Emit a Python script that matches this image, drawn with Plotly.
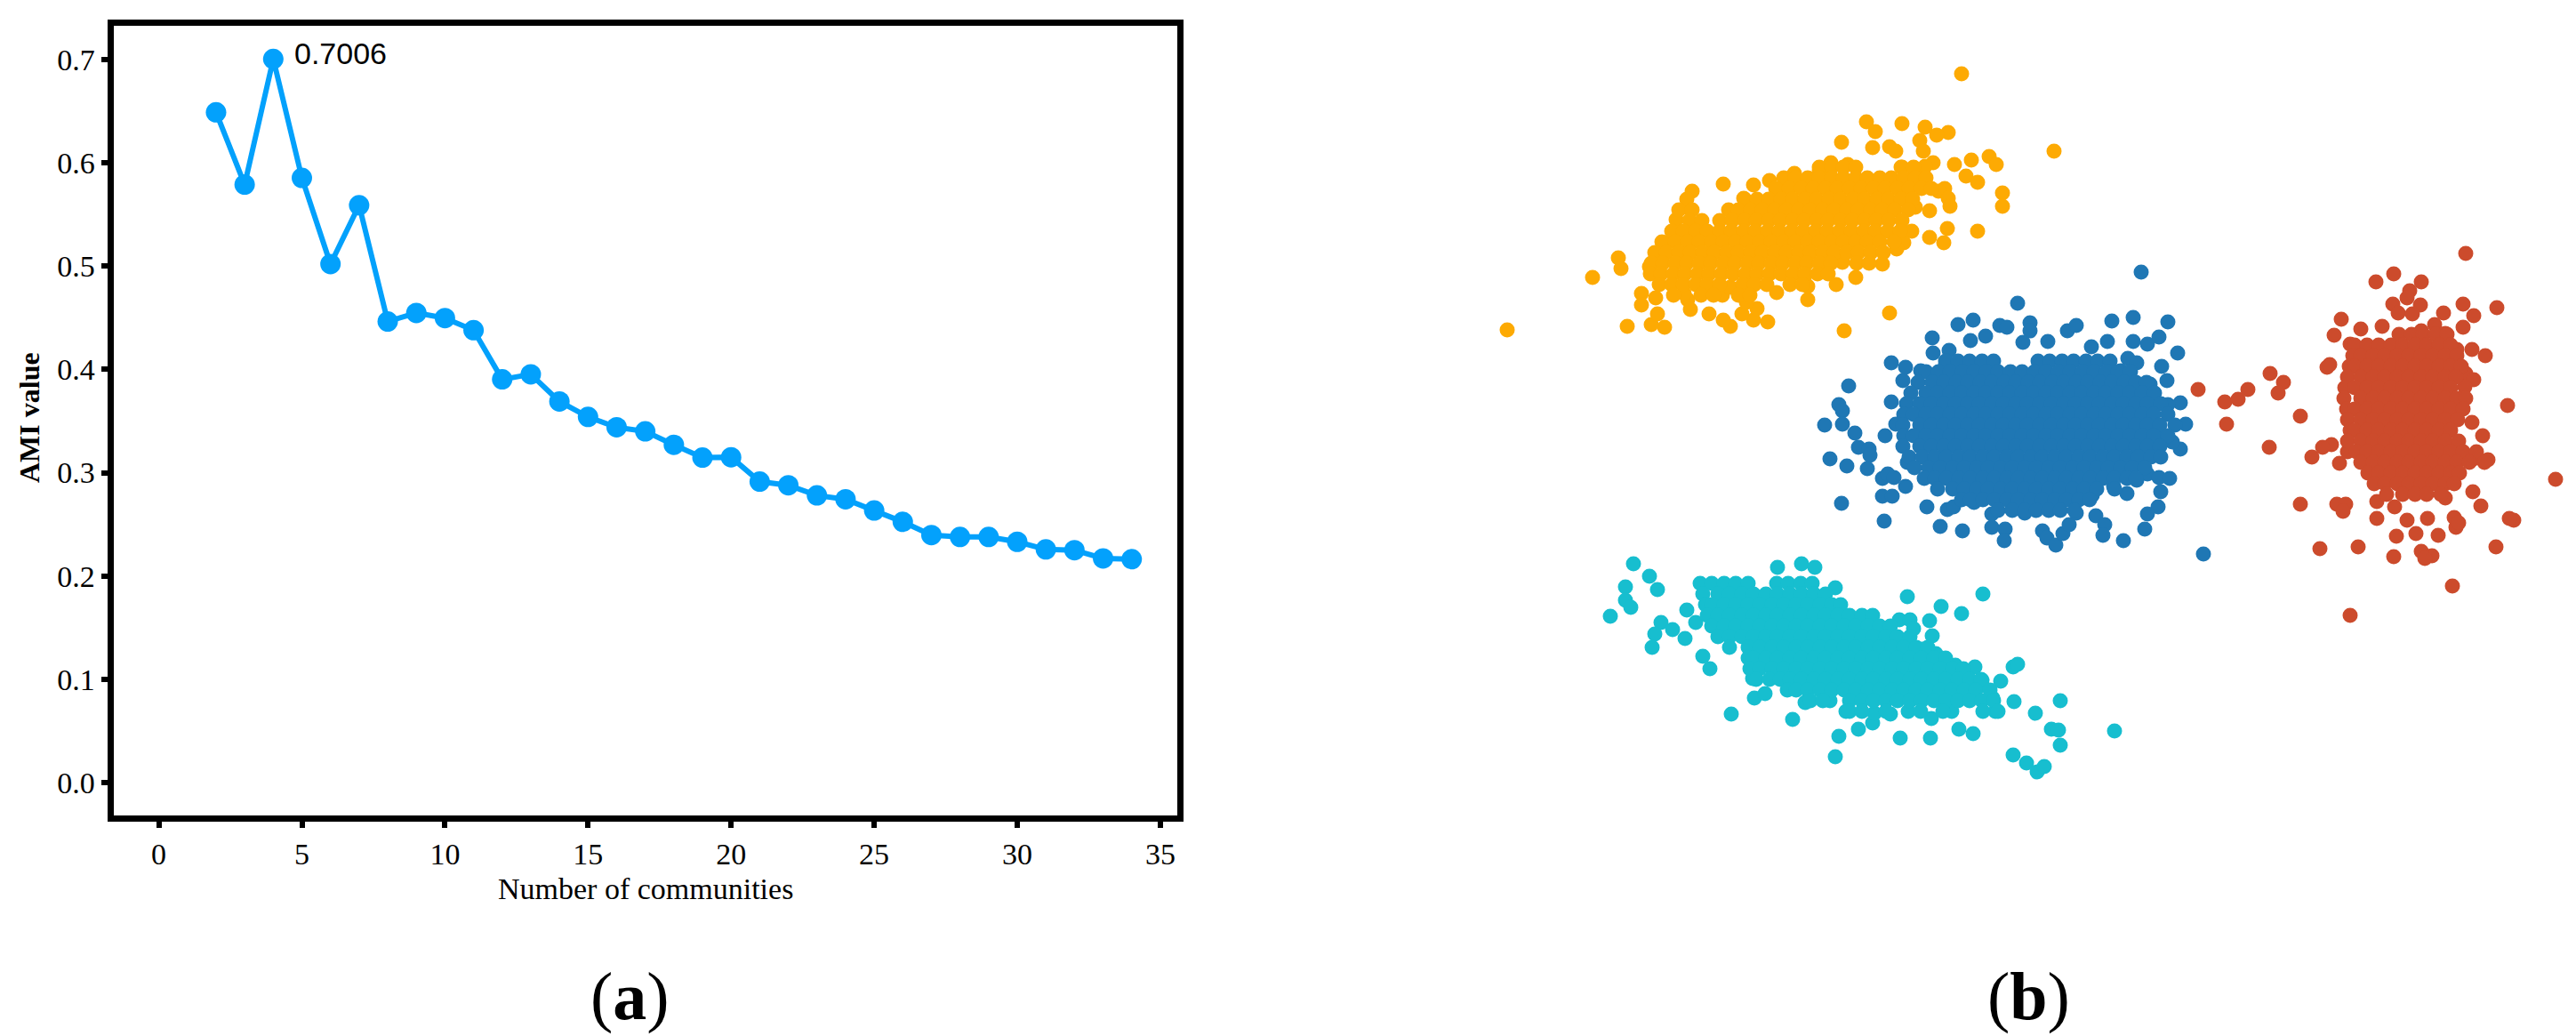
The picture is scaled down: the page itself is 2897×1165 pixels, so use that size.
import plotly.graph_objects as go


# --------------------------------------------------------
# (a) AMI value vs number of communities
# --------------------------------------------------------

communities = list(range(2, 35))

ami_values = [
    0.6490, 0.5790, 0.7006, 0.5855, 0.5020, 0.5590, 0.4464, 0.4547, 0.4497,
    0.4380, 0.3904, 0.3953, 0.3690, 0.3540, 0.3440, 0.3400, 0.3270, 0.3146,
    0.3150, 0.2914, 0.2878, 0.2780, 0.2743, 0.2634, 0.2524, 0.2396, 0.2378,
    0.2378, 0.2331, 0.2257, 0.2250, 0.2170, 0.2163
]

x_ticks = [0, 5, 10, 15, 20, 25, 30, 35]
y_ticks = [0.0, 0.1, 0.2, 0.3, 0.4, 0.5, 0.6, 0.7]

peak_label = "0.7006"


# --------------------------------------------------------
# (b) community embedding (coordinates in picture units)
# --------------------------------------------------------

orange_pts = [
    (1695, 371), (2206, 83), (2310, 170), (1791, 312), (1820, 290), (1823, 302),
    (1830, 367), (2074, 372), (2125, 352), (2224, 260), (2252, 217), (2252, 232),
    (2237, 176), (2245, 185), (2217, 180), (2198, 185), (2211, 198), (2224, 205),
    (2191, 149), (2178, 152), (2165, 143), (2159, 158), (2139, 139), (2099, 137),
    (2109, 148), (2071, 160), (2106, 166), (2125, 165), (2132, 170), (2163, 170),
    (2174, 183), (2165, 187), (2139, 188), (2154, 197), (2187, 212), (2180, 215),
    (2191, 223), (2193, 232), (2154, 233), (2170, 237), (2190, 257), (2170, 267),
    (2186, 273), (2150, 260), (2141, 273), (2133, 280), (2117, 297), (2087, 312),
    (2065, 320), (2072, 295), (2033, 337), (2033, 322), (2029, 313), (1998, 329),
    (1988, 362), (1972, 360), (1976, 347), (1946, 367), (1938, 360), (1922, 353),
    (1959, 353), (1964, 340), (1937, 332), (1946, 323), (1920, 323), (1898, 337),
    (1894, 330), (1901, 348), (1872, 368), (1857, 365), (1864, 353), (1862, 335),
    (1846, 330), (1846, 343), (1855, 300), (1864, 287), (1872, 273), (1883, 260),
    (1885, 247), (1896, 233), (1903, 215), (1938, 207), (1972, 208), (1990, 203),
    (2018, 195), (1961, 223), (2007, 215), (2046, 192), (2059, 183), (2078, 185),
    (2033, 207), (2050, 203),
]
orange_rows_y = [188, 200, 212, 224, 236, 248, 260, 272, 284, 296, 308, 320, 332]
orange_rows_x = [
    [2046, 2060, 2073, 2087, 2138, 2152],
    [2006, 2019, 2033, 2046, 2060, 2073, 2087, 2100, 2114, 2127, 2141, 2154, 2166],
    [1997, 2012, 2026, 2039, 2053, 2066, 2080, 2093, 2107, 2120, 2134, 2147, 2161, 2172],
    [1897, 1962, 1976, 1989, 2003, 2016, 2030, 2043, 2057, 2070, 2084, 2097, 2111, 2124,
     2138, 2151],
    [1888, 1903, 1944, 1955, 1969, 1982, 1996, 2009, 2023, 2036, 2050, 2063, 2077, 2090,
     2104, 2117, 2131, 2146],
    [1900, 1914, 1934, 1948, 1962, 1975, 1989, 2002, 2016, 2029, 2043, 2056, 2070, 2083,
     2097, 2110, 2124, 2139],
    [1880, 1893, 1907, 1920, 1934, 1947, 1961, 1974, 1988, 2001, 2015, 2028, 2042, 2055,
     2069, 2082, 2096, 2109, 2123, 2137],
    [1869, 1884, 1898, 1911, 1925, 1938, 1952, 1965, 1979, 1992, 2006, 2019, 2033, 2046,
     2060, 2073, 2087, 2100, 2114, 2130],
    [1861, 1874, 1888, 1901, 1915, 1928, 1942, 1955, 1969, 1982, 1996, 2009, 2023, 2036,
     2050, 2063, 2077, 2090, 2104, 2118],
    [1857, 1870, 1884, 1897, 1911, 1924, 1938, 1951, 1965, 1978, 1992, 2005, 2019, 2032,
     2046, 2059, 2088, 2102],
    [1856, 1868, 1882, 1895, 1909, 1922, 1936, 1949, 1963, 1976, 1990, 2003, 2017, 2030,
     2044, 2056],
    [1866, 1880, 1893, 1907, 1920, 1934, 1960, 1973, 1987, 2013, 2027],
    [1882, 1913, 1927, 1955, 1968],
]

blue_pts = [
    (2408, 306), (2269, 341), (2202, 365), (2219, 360), (2249, 366), (2257, 368),
    (2283, 363), (2283, 372), (2325, 372), (2335, 366), (2375, 361), (2399, 357),
    (2438, 362), (2399, 384), (2415, 387), (2428, 379), (2449, 397), (2370, 384),
    (2352, 390), (2303, 384), (2216, 383), (2233, 378), (2275, 385), (2173, 380),
    (2174, 397), (2192, 394), (2127, 408), (2143, 413), (2140, 428), (2160, 417),
    (2188, 410), (2217, 412), (2393, 403), (2403, 408), (2385, 417), (2431, 412),
    (2437, 428), (2418, 432), (2079, 434), (2127, 452), (2068, 455), (2072, 462),
    (2052, 478), (2072, 477), (2086, 487), (2090, 503), (2102, 505), (2103, 512),
    (2120, 490), (2132, 477), (2058, 516), (2077, 524), (2100, 527), (2117, 538),
    (2123, 533), (2130, 537), (2071, 566), (2119, 586), (2117, 558), (2128, 558),
    (2143, 547), (2145, 520), (2167, 570), (2182, 592), (2190, 573), (2207, 597),
    (2197, 570), (2220, 565), (2240, 578), (2240, 593), (2255, 595), (2254, 608),
    (2263, 573), (2277, 577), (2297, 597), (2302, 605), (2312, 613), (2320, 600),
    (2327, 590), (2335, 577), (2353, 557), (2357, 580), (2367, 590), (2365, 602),
    (2388, 608), (2377, 547), (2392, 555), (2403, 540), (2415, 533), (2428, 537),
    (2440, 538), (2430, 553), (2427, 570), (2415, 578), (2412, 595), (2478, 623),
    (2418, 505), (2452, 505), (2443, 497), (2433, 493), (2458, 477), (2452, 453),
    (2438, 455), (2423, 453), (2405, 438), (2382, 443), (2400, 520),
]
blue_rows_y = [406, 418, 430, 442, 454, 466, 478, 490, 502, 514, 526, 538, 550, 562, 574]
blue_rows_x = [
    [2188, 2202, 2215, 2229, 2242, 2292, 2305, 2319, 2332, 2346, 2359, 2373],
    [2166, 2180, 2193, 2207, 2220, 2234, 2247, 2261, 2274, 2288, 2301, 2315, 2328, 2342,
     2355, 2369, 2382, 2396],
    [2157, 2173, 2186, 2200, 2213, 2227, 2240, 2254, 2267, 2281, 2294, 2308, 2321, 2335,
     2348, 2362, 2375, 2389, 2402, 2414],
    [2149, 2166, 2179, 2193, 2206, 2220, 2233, 2247, 2260, 2274, 2287, 2301, 2314, 2328,
     2341, 2355, 2368, 2382, 2395, 2409, 2423],
    [2144, 2159, 2172, 2186, 2199, 2213, 2226, 2240, 2253, 2267, 2280, 2294, 2307, 2321,
     2334, 2348, 2361, 2375, 2388, 2402, 2415, 2430],
    [2141, 2152, 2166, 2179, 2193, 2206, 2220, 2233, 2247, 2260, 2274, 2287, 2301, 2314,
     2328, 2341, 2355, 2368, 2382, 2395, 2409, 2422, 2438],
    [2140, 2159, 2172, 2186, 2199, 2213, 2226, 2240, 2253, 2267, 2280, 2294, 2307, 2321,
     2334, 2348, 2361, 2375, 2388, 2402, 2415, 2429, 2446],
    [2141, 2152, 2166, 2179, 2193, 2206, 2220, 2233, 2247, 2260, 2274, 2287, 2301, 2314,
     2328, 2341, 2355, 2368, 2382, 2395, 2409, 2422, 2438],
    [2140, 2159, 2172, 2186, 2199, 2213, 2226, 2240, 2253, 2267, 2280, 2294, 2307, 2321,
     2334, 2348, 2361, 2375, 2388, 2402, 2415, 2429],
    [2147, 2162, 2176, 2189, 2203, 2216, 2230, 2243, 2257, 2270, 2284, 2297, 2311, 2324,
     2338, 2351, 2365, 2378, 2392, 2405, 2419, 2430],
    [2153, 2169, 2182, 2196, 2209, 2223, 2236, 2250, 2263, 2277, 2290, 2304, 2317, 2331,
     2344, 2358, 2371, 2385, 2398, 2412],
    [2164, 2176, 2189, 2203, 2216, 2230, 2243, 2257, 2270, 2284, 2297, 2311, 2324, 2338,
     2351, 2365, 2378, 2392, 2402],
    [2179, 2196, 2209, 2223, 2236, 2250, 2263, 2277, 2290, 2304, 2317, 2331, 2344, 2358, 2378],
    [2206, 2216, 2230, 2243, 2257, 2270, 2284, 2297, 2311, 2324, 2338, 2350],
    [2247, 2263, 2277, 2290, 2304, 2317, 2333],
]

red_pts = [
    (2773, 285), (2692, 308), (2672, 317), (2723, 317), (2710, 327), (2707, 335),
    (2691, 342), (2697, 352), (2722, 343), (2713, 353), (2770, 342), (2808, 346),
    (2782, 355), (2770, 368), (2748, 352), (2633, 359), (2625, 377), (2679, 367),
    (2655, 370), (2643, 387), (2738, 365), (2750, 375), (2723, 372), (2617, 413),
    (2620, 410), (2472, 438), (2502, 452), (2517, 449), (2528, 438), (2553, 420),
    (2568, 430), (2562, 442), (2504, 477), (2587, 468), (2552, 503), (2600, 514),
    (2622, 500), (2631, 521), (2587, 567), (2628, 567), (2638, 567), (2635, 575),
    (2609, 617), (2652, 615), (2643, 692), (2692, 626), (2695, 603), (2673, 583),
    (2673, 564), (2693, 570), (2707, 585), (2717, 600), (2730, 583), (2742, 602),
    (2723, 620), (2735, 625), (2727, 628), (2758, 659), (2760, 582), (2762, 593),
    (2765, 588), (2807, 615), (2827, 585), (2822, 583), (2790, 569), (2781, 553),
    (2750, 560), (2874, 539), (2820, 456), (2780, 475), (2792, 490), (2798, 517),
    (2780, 517), (2760, 502), (2780, 393), (2795, 400), (2773, 420), (2782, 427),
    (2772, 435), (2763, 393), (2612, 503), (2640, 508),
]
red_rows_y = [376, 388, 400, 412, 424, 436, 448, 460, 472, 484, 496, 508, 520, 532, 544, 556]
red_rows_x = [
    [2698, 2712, 2725, 2739, 2752],
    [2648, 2662, 2675, 2689, 2702, 2716, 2729, 2743, 2756],
    [2646, 2655, 2669, 2682, 2696, 2709, 2723, 2736, 2750, 2763],
    [2642, 2648, 2662, 2675, 2689, 2702, 2716, 2729, 2743, 2756, 2768],
    [2640, 2655, 2669, 2682, 2696, 2709, 2723, 2736, 2750, 2762],
    [2637, 2648, 2662, 2675, 2689, 2702, 2716, 2729, 2743, 2756],
    [2636, 2655, 2669, 2682, 2696, 2709, 2723, 2736, 2750, 2763, 2773],
    [2639, 2648, 2662, 2675, 2689, 2702, 2716, 2729, 2743, 2756, 2770],
    [2640, 2655, 2669, 2682, 2696, 2709, 2723, 2736, 2750, 2764],
    [2643, 2648, 2662, 2675, 2689, 2702, 2716, 2729, 2743, 2756],
    [2640, 2655, 2669, 2682, 2696, 2709, 2723, 2736, 2750, 2765],
    [2650, 2662, 2675, 2689, 2702, 2716, 2729, 2743, 2756, 2770, 2785],
    [2655, 2669, 2682, 2696, 2709, 2723, 2736, 2750, 2763, 2777, 2794],
    [2663, 2675, 2689, 2702, 2716, 2729, 2743, 2756, 2766],
    [2670, 2682, 2696, 2709, 2723, 2736, 2750, 2760],
    [2684, 2702, 2716, 2729, 2745],
]

cyan_pts = [
    (1837, 634), (1855, 648), (1864, 663), (1828, 660), (1828, 675), (1834, 683),
    (1811, 693), (1897, 686), (1868, 700), (1881, 708), (1861, 713), (1858, 728),
    (1895, 718), (1907, 700), (1999, 638), (2026, 634), (2041, 638), (2064, 661),
    (2145, 671), (2183, 682), (2206, 690), (2230, 668), (2136, 697), (2148, 697),
    (2152, 707), (2170, 698), (2173, 715), (2162, 730), (2177, 735), (1915, 738),
    (1923, 752), (1947, 803), (1973, 785), (1985, 780), (2016, 809), (2068, 828),
    (2064, 851), (1971, 763), (2030, 790), (2058, 788), (2076, 800), (2090, 820),
    (2106, 813), (2108, 802), (2126, 803), (2146, 800), (2137, 830), (2172, 808),
    (2171, 830), (2195, 800), (2203, 820), (2219, 825), (2244, 800), (2265, 789),
    (2289, 802), (2317, 788), (2307, 820), (2315, 821), (2317, 838), (2264, 849),
    (2279, 858), (2291, 868), (2299, 862), (2378, 822), (2250, 766), (2264, 750),
    (2269, 747), (2221, 750), (2229, 765), (2199, 748), (2241, 785), (2217, 780),
]
cyan_rows_y = [656, 668, 680, 692, 704, 716, 728, 740, 752, 764, 776, 788, 800]
cyan_rows_x = [
    [1912, 1925, 1939, 1952, 1966, 1998, 2011, 2025, 2038],
    [1915, 1932, 1945, 1959, 1972, 1986, 1999, 2013, 2026, 2040, 2053],
    [1918, 1925, 1939, 1952, 1966, 1979, 1993, 2006, 2020, 2033, 2047, 2060, 2070],
    [1920, 1932, 1945, 1959, 1972, 1986, 1999, 2013, 2026, 2040, 2053, 2067, 2080, 2094, 2106],
    [1925, 1939, 1952, 1966, 1979, 1993, 2006, 2020, 2033, 2047, 2060, 2074, 2087, 2101,
     2114, 2126],
    [1932, 1945, 1959, 1972, 1986, 1999, 2013, 2026, 2040, 2053, 2067, 2080, 2094, 2107,
     2121, 2134, 2148],
    [1945, 1966, 1979, 1993, 2006, 2020, 2033, 2047, 2060, 2074, 2087, 2101, 2114, 2128,
     2141, 2155, 2168],
    [1966, 1972, 1986, 1999, 2013, 2026, 2040, 2053, 2067, 2080, 2094, 2107, 2121, 2134,
     2148, 2161, 2175, 2188],
    [1968, 1979, 1993, 2006, 2020, 2033, 2047, 2060, 2074, 2087, 2101, 2114, 2128, 2141,
     2155, 2168, 2182, 2196, 2208],
    [1975, 1990, 2002, 2013, 2026, 2040, 2053, 2067, 2080, 2094, 2107, 2121, 2134, 2148,
     2161, 2175, 2188, 2202, 2215, 2228],
    [2010, 2020, 2033, 2047, 2060, 2074, 2087, 2101, 2114, 2128, 2141, 2155, 2168, 2182,
     2195, 2209, 2222, 2238],
    [2036, 2050, 2080, 2094, 2107, 2121, 2134, 2148, 2161, 2175, 2188, 2202, 2215, 2229, 2242],
    [2080, 2094, 2121, 2160, 2185, 2230, 2247],
]

clusters = [
    ("#fdaa03", orange_pts, orange_rows_y, orange_rows_x),
    ("#1f77b4", blue_pts, blue_rows_y, blue_rows_x),
    ("#cc4b2c", red_pts, red_rows_y, red_rows_x),
    ("#17becf", cyan_pts, cyan_rows_y, cyan_rows_x),
]


W, H = 2897, 1165
serif = "Liberation Serif, Times New Roman, serif"

fig = go.Figure()

fig.add_trace(
    go.Scatter(
        x=communities,
        y=ami_values,
        mode="lines+markers",
        line=dict(color="#03a1fc", width=6),
        marker=dict(color="#03a1fc", size=23),
        xaxis="x",
        yaxis="y",
        showlegend=False,
    )
)

for color, pts, rows_y, rows_x in clusters:
    xs = [p[0] for p in pts]
    ys = [p[1] for p in pts]
    for ry, rx in zip(rows_y, rows_x):
        xs += rx
        ys += [ry] * len(rx)
    fig.add_trace(
        go.Scatter(
            x=xs,
            y=ys,
            mode="markers",
            marker=dict(color=color, size=17, line=dict(width=0)),
            xaxis="x2",
            yaxis="y2",
            showlegend=False,
        )
    )

axis_style = dict(
    showline=True,
    linewidth=7,
    linecolor="black",
    mirror=True,
    ticks="outside",
    ticklen=7,
    tickwidth=6,
    tickcolor="black",
    showgrid=False,
    zeroline=False,
    tickfont=dict(family=serif, size=34, color="black"),
)

fig.update_layout(
    width=W,
    height=H,
    margin=dict(l=0, r=0, t=0, b=0),
    paper_bgcolor="white",
    plot_bgcolor="rgba(0,0,0,0)",
    xaxis=dict(
        domain=[127.5 / W, 1323.5 / W],
        range=[-1.588, 35.578],
        tickvals=x_ticks,
        anchor="y",
        **axis_style,
    ),
    yaxis=dict(
        domain=[1 - 917.1 / H, 1 - 29.2 / H],
        range=[-0.032, 0.7326],
        tickvals=y_ticks,
        tickformat=".1f",
        anchor="x",
        **axis_style,
    ),
    xaxis2=dict(domain=[0, 1], range=[0, W], visible=False, anchor="y2"),
    yaxis2=dict(domain=[0, 1], range=[H, 0], visible=False, anchor="x2"),
)

fig.add_annotation(
    x=4, y=ami_values[2], xref="x", yref="y",
    text=peak_label, showarrow=False,
    xanchor="left", yanchor="middle", xshift=22, yshift=6,
    font=dict(family="Liberation Sans, Arial, sans-serif", size=34, color="black"),
)

fig.add_annotation(
    x=33 / W, y=1 - 470 / H, xref="paper", yref="paper",
    text="<b>AMI value</b>", textangle=-90, showarrow=False,
    xanchor="center", yanchor="middle",
    font=dict(family=serif, size=32, color="black"),
)

fig.add_annotation(
    x=726 / W, y=1 - 999 / H, xref="paper", yref="paper",
    text="Number of communities", showarrow=False,
    xanchor="center", yanchor="middle",
    font=dict(family=serif, size=34, color="black"),
)

for label, cx in [("a", 708), ("b", 2281)]:
    fig.add_annotation(
        x=cx / W, y=0, xref="paper", yref="paper",
        text=f"(<b>{label}</b>)", showarrow=False,
        xanchor="center", yanchor="bottom",
        font=dict(family=serif, size=76, color="black"),
    )

# the page body has a default margin; drop it so the figure sits at the corner
fig.write_html(
    "out.html",
    config={"displayModeBar": False},
    post_script="document.body.style.margin = '0';",
)
